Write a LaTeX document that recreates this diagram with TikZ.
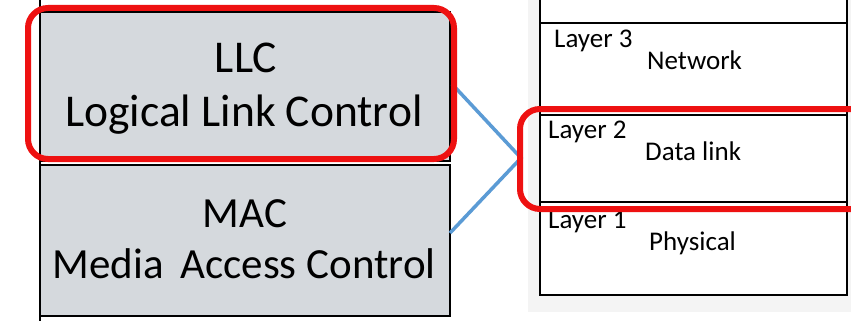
\documentclass[tikz,border=0pt]{standalone}
\usepackage{fontspec}
\setmainfont{Carlito}
\definecolor{boxgrey}{HTML}{D5D9DD}
\definecolor{scanbg}{HTML}{F4F4F4}
\definecolor{hlred}{HTML}{EE1111}
\definecolor{linkblue}{HTML}{5B9BD5}
\begin{document}
\begin{tikzpicture}[x=1pt,y=-1pt,
  sublayer/.style={draw=black,line width=1.6pt,fill=boxgrey},
  bigtext/.style={anchor=base,inner sep=0pt,font=\fontsize{43}{46}\selectfont},
  widetext/.style={bigtext,font=\fontsize{45.5}{48}\selectfont},
  layertext/.style={anchor=base west,inner sep=0pt,font=\fontsize{27}{30}\selectfont},
  rowline/.style={draw=black,line width=1.8pt},
  highlight/.style={draw=hlred,line width=6pt,rounded corners=20pt},
  link/.style={draw=linkblue,line width=3.5pt}]
\useasboundingbox (0,0) rectangle (851,321);
\fill[white] (0,0) rectangle (851,321);
% left sublayer boxes
\draw[sublayer] (40,12) rectangle (450,161);
\draw[sublayer] (40,165) rectangle (450,316);
\draw[black,line width=1.6pt] (40,0) -- (40,321);
\node[widetext] (llc) at (246,72) {LLC};
\node[widetext] (llcname) at (244,126) {Logical Link Control};
\node[bigtext] (mac) at (245,227) {MAC};
\node[bigtext] (macname) at (244,278) {Media\, Access Control};
% right OSI table
\fill[scanbg] (528,0) rectangle (851,312);
\fill[white] (540,0) rectangle (847,295);
\draw[rowline] (540,0) -- (540,295) -- (847,295) -- (847,0);
\draw[rowline] (540,23) -- (847,23);
\draw[rowline] (540,115) -- (847,115);
\draw[rowline] (540,202) -- (847,202);
\node[layertext] (l3) at (554,48) {Layer 3};
\node[layertext] (n3) at (647,70) {Network};
\node[layertext] (l2) at (548,138) {Layer 2};
\node[layertext] (n2) at (645,160) {Data link};
\node[layertext] (l1) at (548,228) {Layer 1};
\node[layertext] (n1) at (649,250) {Physical};
% connectors
\coordinate (ltop) at (452,84);
\coordinate (lbot) at (450,233);
\coordinate (tip) at (521,158);
\draw[link] (ltop) -- (tip) -- (lbot);
% highlights
\draw[highlight] (28,8) rectangle (454,159);
\draw[highlight] (520,109) rectangle (880,209);
\end{tikzpicture}
\end{document}
